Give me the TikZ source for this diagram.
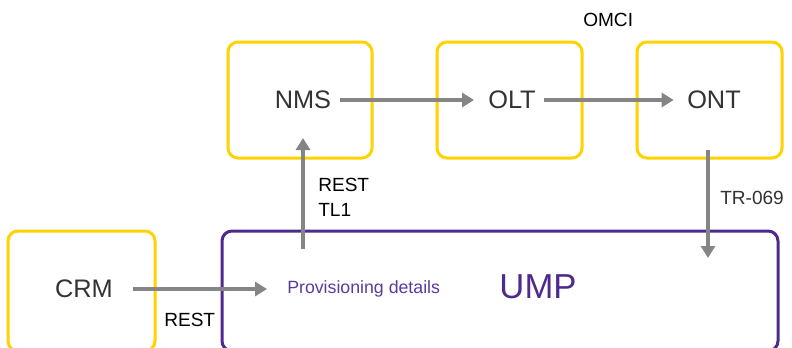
\documentclass[tikz,border=0pt]{standalone}
\usepackage{fontspec}
\setmainfont{Liberation Sans}
\usetikzlibrary{arrows.meta}
\definecolor{boxyellow}{HTML}{FFD200}
\definecolor{umppurple}{HTML}{4E2A8E}
\definecolor{provpurple}{HTML}{5A3A9E}
\definecolor{arrowgray}{HTML}{858585}
\definecolor{labeldark}{HTML}{333333}
\tikzset{
  sysbox/.style={draw=boxyellow, line width=2.25pt, rounded corners=7.5pt},
  umpbox/.style={draw=umppurple, line width=2.25pt, rounded corners=7.5pt},
  systext/.style={font=\fontsize{19}{21}\selectfont, text=labeldark, inner sep=0pt},
  proto/.style={font=\fontsize{14.3}{16}\selectfont, text=black, inner sep=0pt, anchor=west},
  flow/.style={draw=arrowgray, line width=3pt, -{Triangle[length=9pt,width=10.5pt]}}
}
\begin{document}
\begin{tikzpicture}[x=0.75pt,y=-0.75pt]
\useasboundingbox (0,0) rectangle (792,347);
\clip (0,0) rectangle (792,347);

% system boxes (the lower row runs past the bottom edge)
\draw[sysbox] (228,42) rectangle (372,158);
\draw[sysbox] (437,42) rectangle (582,158);
\draw[sysbox] (637,42) rectangle (782,158);
\draw[sysbox] (8,231) rectangle (155,351);
\draw[umpbox] (222,231) rectangle (778,351);

% box titles
\node[systext] (nms) at (303,100) {NMS};
\node[systext] (olt) at (512,100) {OLT};
\node[systext] (ont) at (714,100) {ONT};
\node[systext] (crm) at (84,289) {CRM};
\node[font=\fontsize{26}{28}\selectfont, text=umppurple, inner sep=0pt] (ump) at (538,287) {UMP};
\node[font=\fontsize{13.3}{15}\selectfont, text=provpurple, inner sep=0pt, anchor=west] (prov) at (287,289) {Provisioning details};

% connector end points
\coordinate (umptop) at (303,249);
\coordinate (nmsbot) at (303,138);
\coordinate (ontbot) at (708,150);
\coordinate (umpin) at (708,258);

% connectors
\draw[flow] ([xshift=6.5pt]nms.east) -- ([xshift=-10.5pt]olt.west);
\draw[flow] ([xshift=6pt]olt.east) -- ([xshift=-10pt]ont.west);
\draw[flow] (umptop) -- (nmsbot);
\draw[flow] (ontbot) -- (umpin);
\draw[flow] ([xshift=15pt]crm.east) -- ([xshift=-15pt]prov.west);

% protocol labels
\node[proto] (omci) at (583,20) {OMCI};
\node[proto] (rest1) at (318,185) {REST};
\node[proto] (tl1) at (318,210) {TL1};
\node[proto, text=labeldark] (tr) at (720,198) {TR-069};
\node[proto] (rest2) at (164,320) {REST};
\end{tikzpicture}
\end{document}
